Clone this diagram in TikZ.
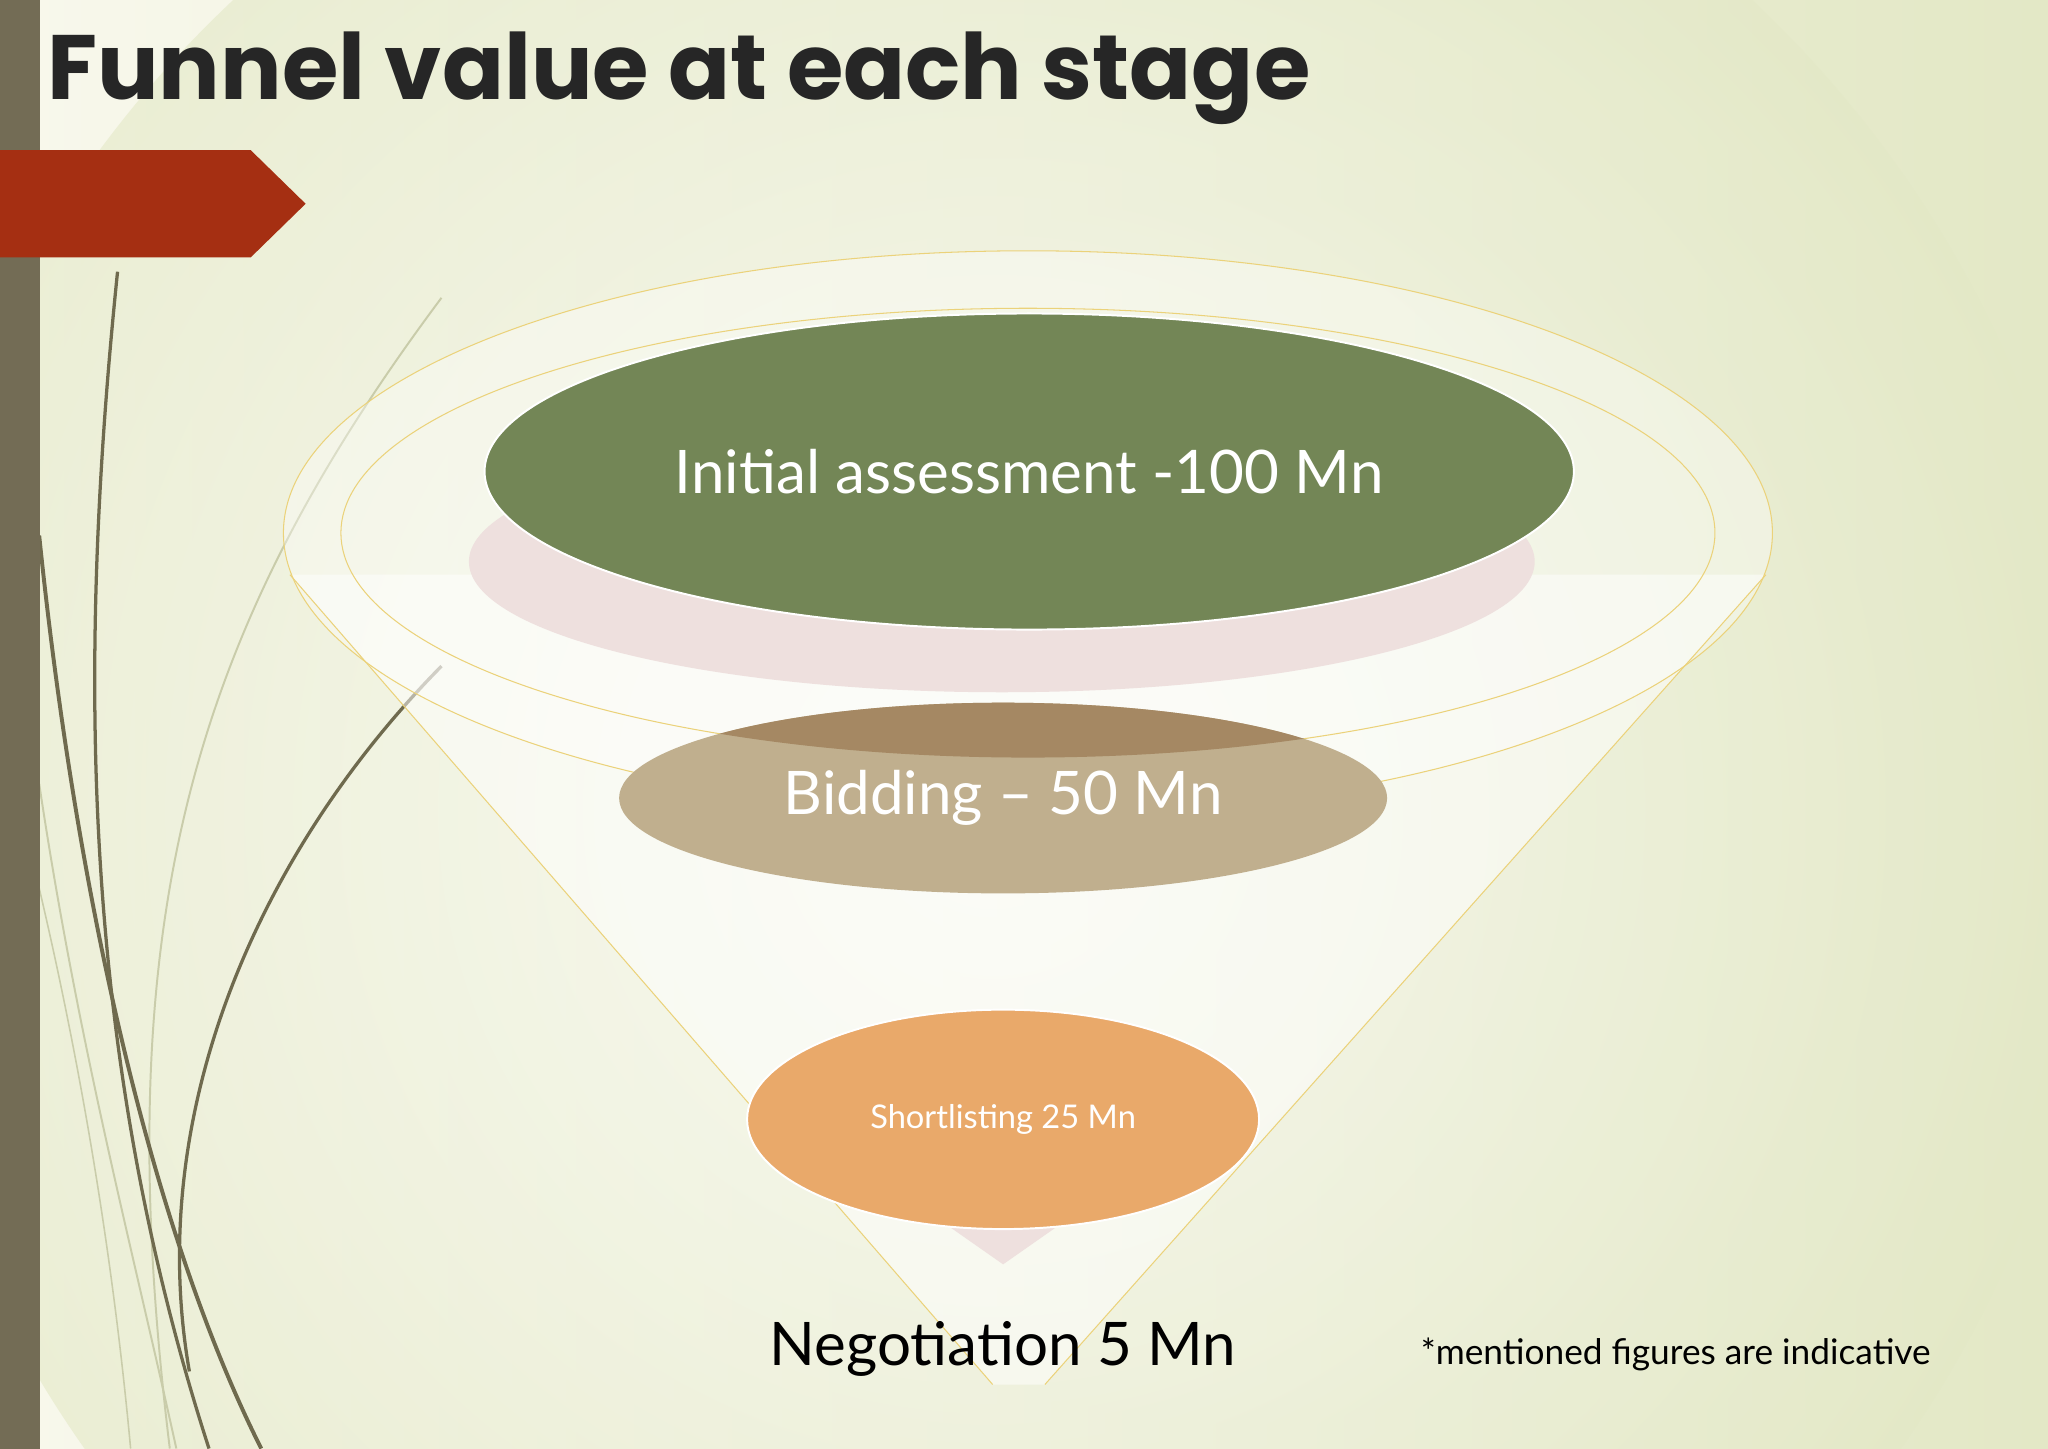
\documentclass[tikz,border=0pt]{standalone}
\usepackage{fontspec}
\setmainfont{Lato}
\newfontfamily\titlefont{Poppins}
\usetikzlibrary{shadings}
\definecolor{bgA}{HTML}{F8F8EC}
\definecolor{bgB}{HTML}{E3E8C6}
\definecolor{barc}{HTML}{736C55}
\definecolor{redc}{HTML}{A52F12}
\definecolor{grass}{HTML}{6F6A4E}
\definecolor{grassl}{HTML}{C9CCAA}
\definecolor{greenc}{HTML}{738656}
\definecolor{bidc}{HTML}{C0AF8E}
\definecolor{shortc}{HTML}{E9A96A}
\definecolor{pinkc}{HTML}{EEE0DE}
\definecolor{func}{HTML}{EBD27A}
\tikzset{stage/.style={draw=white,line width=1.5pt},
 lbl/.style={text=white,font=\fontsize{46}{50}\selectfont},
 funnelline/.style={draw=func,line width=0.8pt}}
\begin{document}
\begin{tikzpicture}[x=1pt,y=-1pt]
\useasboundingbox (0,0) rectangle (1568,1109);
\shade[left color=bgA,right color=bgB] (0,0) rectangle (1568,1109);
\shade[inner color=white,outer color=bgB,opacity=0.6] (760,620) circle (850);
% grass
\draw[grassl,line width=1.5pt] (338,228) .. controls (150,480) and (80,700) .. (130,1109);
\draw[grassl,line width=1.5pt] (30,600) .. controls (60,800) and (100,950) .. (135,1109);
\draw[grassl,line width=1.2pt] (30,680) .. controls (70,850) and (90,1000) .. (100,1109);
\draw[grass,line width=2.5pt] (90,208) .. controls (60,500) and (60,800) .. (160,1109);
\draw[grass,line width=3pt] (30,410) .. controls (60,700) and (120,950) .. (200,1109);
\draw[grass,line width=2.5pt] (338,510) .. controls (200,650) and (110,850) .. (145,1050);
\fill[barc] (0,0) rectangle (31,1109);
\fill[redc] (0,115) -- (192,115) -- (234,156) -- (192,197) -- (0,197) -- cycle;
\node[anchor=west,inner sep=0,font=\titlefont\bfseries\fontsize{70}{74}\selectfont,text=black!85] (title) at (36,60) {Funnel value at each stage};
% funnel
\fill[white,opacity=0.5] (222,440) -- (760,1060) -- (800,1060) -- (1352,440) -- cycle;
\fill[white,opacity=0.35] (787,408) ellipse (570 and 216);
\draw[funnelline] (222,440) -- (760,1060);
\draw[funnelline] (1352,440) -- (800,1060);
\draw[funnelline] (787,408) ellipse (570 and 216);
\draw[funnelline] (787,408) ellipse (526 and 172);
\fill[pinkc] (767,430) ellipse (408 and 100);
\filldraw[stage,fill=greenc] (788,361) ellipse (417 and 121);
\node[lbl] (init) at (788,361) {Initial assessment -100 Mn};
\fill[bidc] (768,611) ellipse (294 and 73);
\begin{scope}
\clip (768,611) ellipse (294 and 73);
\fill[black!20!bidc!70!brown] (787,408) ellipse (526 and 172);
\end{scope}
\node[lbl] (bid) at (768,611) {Bidding – 50 Mn};
\fill[pinkc] (728,940) -- (808,940) -- (768,968) -- cycle;
\filldraw[stage,fill=shortc] (768,857) ellipse (196 and 84);
\node[text=white,font=\fontsize{25}{29}\selectfont] (sl) at (768,857) {Shortlisting 25 Mn};
\node[font=\fontsize{46}{50}\selectfont] (neg) at (768,1033) {Negotiation 5 Mn};
\node[font=\fontsize{27}{31}\selectfont] (note) at (1283,1037) {*mentioned figures are indicative};
\end{tikzpicture}
\end{document}
